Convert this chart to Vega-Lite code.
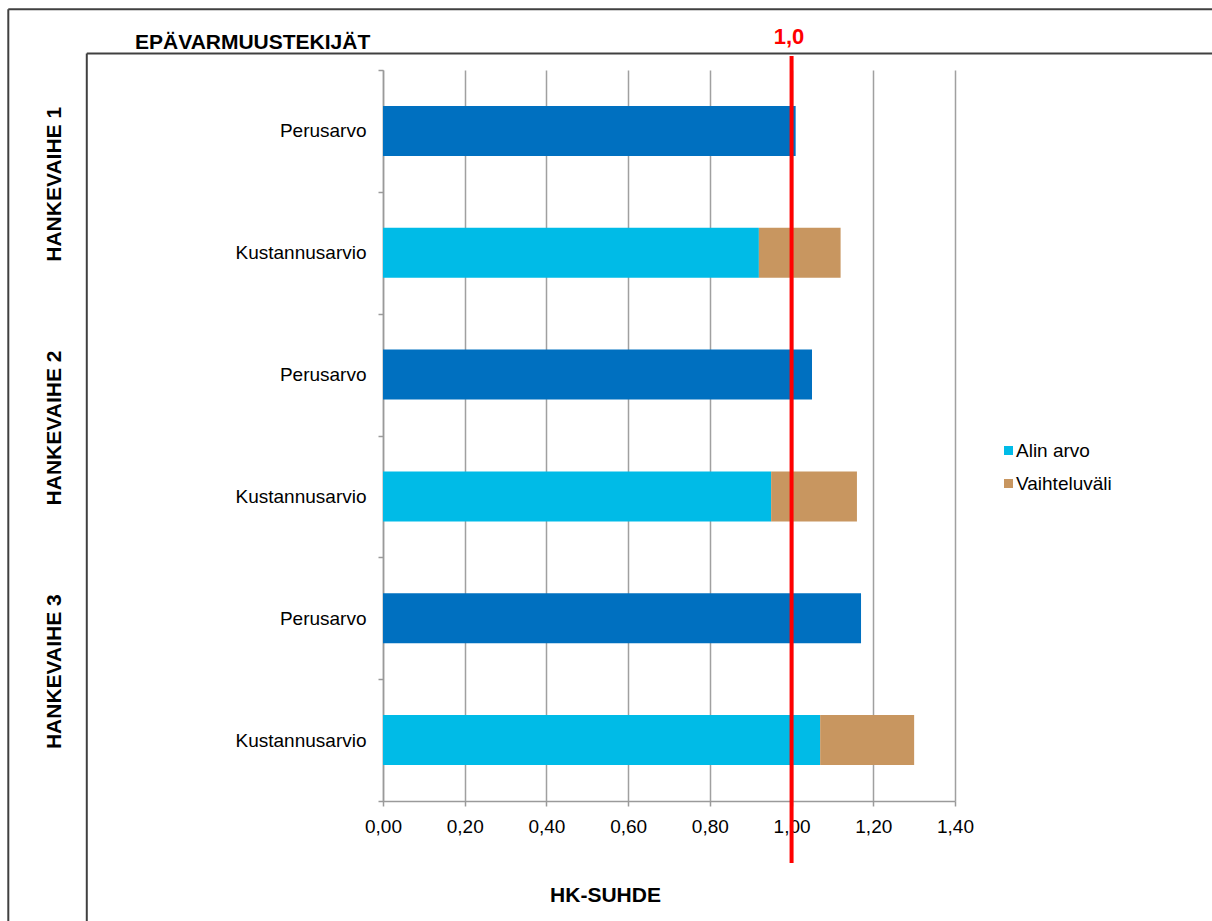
{
  "$schema": "https://vega.github.io/schema/vega-lite/v6.json",
  "width": 572,
  "height": 731,
  "autosize": {"type": "none"},
  "padding": {"left": 383, "top": 70, "right": 257, "bottom": 120},
  "background": "white",
  "config": {
    "view": {"stroke": null},
    "font": "Liberation Sans",
    "axis": {"labelFont": "Liberation Sans", "titleFont": "Liberation Sans"},
    "legend": {"labelFont": "Liberation Sans"}
  },
  "title": {
    "text": "EPÄVARMUUSTEKIJÄT",
    "anchor": "start",
    "frame": "group",
    "dx": -248,
    "offset": -62,
    "baseline": "alphabetic",
    "fontSize": 21,
    "fontWeight": "bold",
    "color": "#000000",
    "font": "Liberation Sans"
  },
  "layer": [
    {
      "data": {
        "values": [
          {"cat": "1|Perusarvo", "series": "Perusarvo", "value": 1.01},
          {"cat": "1|Kustannusarvio", "series": "Alin arvo", "value": 0.92},
          {"cat": "1|Kustannusarvio", "series": "Vaihteluväli", "value": 0.20},
          {"cat": "2|Perusarvo", "series": "Perusarvo", "value": 1.05},
          {"cat": "2|Kustannusarvio", "series": "Alin arvo", "value": 0.95},
          {"cat": "2|Kustannusarvio", "series": "Vaihteluväli", "value": 0.21},
          {"cat": "3|Perusarvo", "series": "Perusarvo", "value": 1.17},
          {"cat": "3|Kustannusarvio", "series": "Alin arvo", "value": 1.07},
          {"cat": "3|Kustannusarvio", "series": "Vaihteluväli", "value": 0.23}
        ]
      },
      "mark": {"type": "bar", "height": {"band": 0.41}},
      "encoding": {
        "y": {
          "field": "cat",
          "type": "nominal",
          "sort": ["1|Perusarvo", "1|Kustannusarvio", "2|Perusarvo", "2|Kustannusarvio", "3|Perusarvo", "3|Kustannusarvio"],
          "scale": {"paddingInner": 0, "paddingOuter": 0},
          "axis": {
            "title": null,
            "labelExpr": "split(datum.label, '|')[1]",
            "tickBand": "extent",
            "grid": false,
            "domainColor": "#9a9a9a",
            "domainWidth": 1.5,
            "tickColor": "#9a9a9a",
            "tickWidth": 1.5,
            "tickSize": 5,
            "labelFontSize": 19,
            "labelColor": "#000000",
            "labelPadding": 12,
            "labelOverlap": false
          }
        },
        "x": {
          "field": "value",
          "type": "quantitative",
          "stack": "zero",
          "scale": {"domain": [0, 1.4], "nice": false, "zero": true},
          "axis": {
            "values": [0, 0.2, 0.4, 0.6, 0.8, 1, 1.2, 1.4],
            "labelExpr": "replace(format(datum.value, '.2f'), '.', ',')",
            "grid": true,
            "gridColor": "#a0a0a0",
            "gridWidth": 1.5,
            "domainColor": "#9a9a9a",
            "domainWidth": 1.5,
            "tickColor": "#9a9a9a",
            "tickWidth": 1.5,
            "tickSize": 5,
            "labelFontSize": 19,
            "labelColor": "#000000",
            "labelPadding": 11,
            "labelOverlap": false,
            "labelFlush": false,
            "title": "HK-SUHDE",
            "titleFontSize": 21,
            "titleFontWeight": "bold",
            "titleColor": "#000000",
            "titleX": 222,
            "titleY": 100,
            "titleAlign": "center",
            "titleBaseline": "alphabetic"
          }
        },
        "color": {
          "field": "series",
          "type": "nominal",
          "scale": {"domain": ["Alin arvo", "Vaihteluväli", "Perusarvo"], "range": ["#00BBE7", "#C89660", "#0070C0"]},
          "legend": {
            "values": ["Alin arvo", "Vaihteluväli"],
            "title": null,
            "orient": "none",
            "legendX": 616,
            "legendY": 371,
            "symbolType": "square",
            "symbolSize": 81,
            "symbolStrokeWidth": 0,
            "symbolOpacity": 1,
            "labelFontSize": 19,
            "labelColor": "#000000",
            "labelOffset": -2,
            "rowPadding": 13,
            "padding": 0
          }
        },
        "order": {"field": "series", "sort": "ascending"}
      }
    },
    {
      "data": {"values": [{"phase": "HANKEVAIHE 1"}, {"phase": "HANKEVAIHE 2"}, {"phase": "HANKEVAIHE 3"}]},
      "mark": {"type": "point", "opacity": 0},
      "encoding": {
        "y": {
          "field": "phase",
          "type": "nominal",
          "axis": {
            "orient": "left",
            "offset": 329,
            "title": null,
            "domain": false,
            "ticks": false,
            "tickSize": 0,
            "grid": false,
            "labelAngle": -90,
            "labelAlign": "center",
            "labelBaseline": "middle",
            "labelPadding": 0,
            "labelOffset": -8,
            "labelFontSize": 21,
            "labelFontWeight": "bold",
            "labelColor": "#000000",
            "labelOverlap": false
          }
        }
      }
    },
    {
      "data": {"values": [{}]},
      "mark": {"type": "rule", "color": "#404040", "strokeWidth": 2, "clip": false},
      "encoding": {
        "x": {"datum": -0.9171, "type": "quantitative", "scale": {"domain": [0, 1.4], "nice": false}},
        "y": {"datum": 1.083, "type": "quantitative", "scale": {"domain": [0, 1], "nice": false, "zero": false}, "axis": null},
        "y2": {"datum": -0.17}
      }
    },
    {
      "data": {"values": [{}]},
      "mark": {"type": "rule", "color": "#404040", "strokeWidth": 2, "clip": false},
      "encoding": {
        "x": {"datum": -0.9171, "type": "quantitative", "scale": {"domain": [0, 1.4], "nice": false}},
        "x2": {"datum": 2.05},
        "y": {"datum": 1.083, "type": "quantitative", "scale": {"domain": [0, 1], "nice": false, "zero": false}, "axis": null}
      }
    },
    {
      "data": {"values": [{}]},
      "mark": {"type": "rule", "color": "#404040", "strokeWidth": 2, "clip": false},
      "encoding": {
        "x": {"datum": -0.725, "type": "quantitative", "scale": {"domain": [0, 1.4], "nice": false}},
        "y": {"datum": 1.0226, "type": "quantitative", "scale": {"domain": [0, 1], "nice": false, "zero": false}, "axis": null},
        "y2": {"datum": -0.17}
      }
    },
    {
      "data": {"values": [{}]},
      "mark": {"type": "rule", "color": "#404040", "strokeWidth": 2, "clip": false},
      "encoding": {
        "x": {"datum": -0.725, "type": "quantitative", "scale": {"domain": [0, 1.4], "nice": false}},
        "x2": {"datum": 2.05},
        "y": {"datum": 1.0226, "type": "quantitative", "scale": {"domain": [0, 1], "nice": false, "zero": false}, "axis": null}
      }
    },
    {
      "data": {"values": [{}]},
      "mark": {"type": "rule", "color": "#FF0000", "strokeWidth": 4, "clip": false},
      "encoding": {
        "x": {"datum": 1, "type": "quantitative", "scale": {"domain": [0, 1.4], "nice": false}},
        "y": {"datum": 1.0192, "type": "quantitative", "scale": {"domain": [0, 1], "nice": false, "zero": false}, "axis": null},
        "y2": {"datum": -0.0848}
      }
    },
    {
      "data": {"values": [{}]},
      "mark": {"type": "text", "text": "1,0", "fontSize": 22, "fontWeight": "bold", "color": "#FF0000", "align": "center", "baseline": "middle", "dx": -2.5, "clip": false, "font": "Liberation Sans"},
      "encoding": {
        "x": {"datum": 1, "type": "quantitative", "scale": {"domain": [0, 1.4], "nice": false}},
        "y": {"datum": 1.0445, "type": "quantitative", "scale": {"domain": [0, 1], "nice": false, "zero": false}, "axis": null}
      }
    }
  ],
  "resolve": {"scale": {"y": "independent"}, "axis": {"y": "independent"}}
}
